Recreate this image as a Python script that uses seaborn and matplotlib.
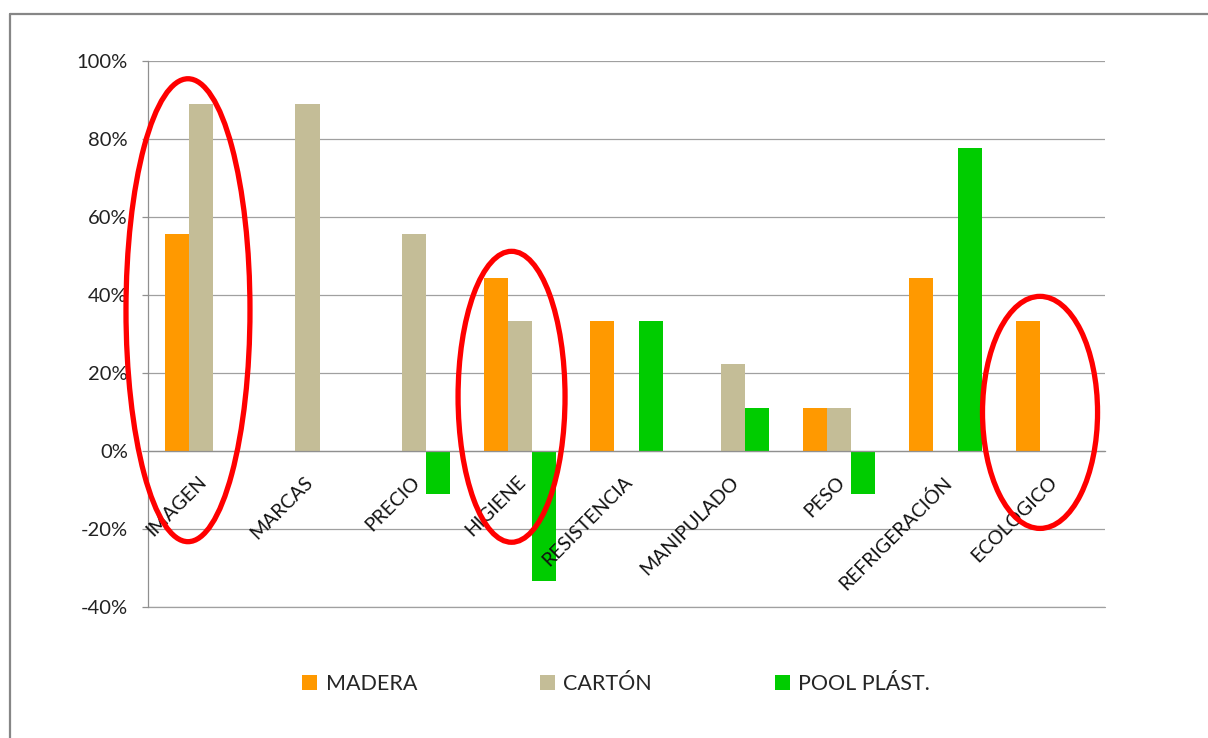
import numpy as np
import pandas as pd
import matplotlib
matplotlib.use("Agg")
import matplotlib.pyplot as plt
import matplotlib.transforms as mtransforms
from matplotlib.patches import Ellipse, Patch
from matplotlib.lines import Line2D
import seaborn as sns

categories = ["IMAGEN", "MARCAS", "PRECIO", "HIGIENE", "RESISTENCIA",
              "MANIPULADO", "PESO", "REFRIGERACIÓN", "ECOLOGICO"]
series = ["MADERA", "CARTÓN", "POOL PLÁST."]
madera = [0.556, 0.0, 0.0, 0.444, 0.333, 0.0, 0.111, 0.444, 0.333]
carton = [0.889, 0.889, 0.556, 0.333, 0.0, 0.222, 0.111, 0.0, 0.0]
pool = [0.0, 0.0, -0.111, -0.333, 0.333, 0.111, -0.111, 0.778, 0.0]
yticks = [-0.4, -0.2, 0.0, 0.2, 0.4, 0.6, 0.8, 1.0]
ytick_labels = ["-40%", "-20%", "0%", "20%", "40%", "60%", "80%", "100%"]
colors = {"MADERA": "#FF9900", "CARTÓN": "#C4BD97", "POOL PLÁST.": "#00CC00"}

df = pd.DataFrame({
    "categoria": categories * 3,
    "serie": [series[0]] * 9 + [series[1]] * 9 + [series[2]] * 9,
    "valor": madera + carton + pool,
})

sns.set_style("white")
plt.rcParams["font.family"] = ["Lato", "DejaVu Sans"]

fig = plt.figure(figsize=(12.08, 7.38), dpi=100)
W, H = 1208, 738
ax = fig.add_axes([148 / W, 1 - 607 / H, (1105 - 148) / W, (607 - 61) / H])

sns.barplot(data=df, x="categoria", y="valor", hue="serie", order=categories,
            hue_order=series, palette=colors, width=0.68, ax=ax,
            saturation=1, legend=False, errorbar=None, linewidth=0)

ax.set_xlim(-0.5, len(categories) - 0.5)
ax.set_ylim(-0.4, 1.0)
ax.set_yticks(yticks)
ax.set_yticklabels(ytick_labels, fontsize=14.5, color="#222222")
ax.yaxis.grid(True, color="#A0A0A0", linewidth=0.9)
ax.axhline(-0.4, color="#A0A0A0", linewidth=0.9, clip_on=False, zorder=0)
ax.set_axisbelow(True)
ax.set_xlabel("")
ax.set_ylabel("")

for s in ["top", "right"]:
    ax.spines[s].set_visible(False)
ax.spines["left"].set_color("#909090")
ax.spines["left"].set_linewidth(0.9)
ax.spines["bottom"].set_position(("data", 0))
ax.spines["bottom"].set_color("#909090")
ax.spines["bottom"].set_linewidth(0.9)

ax.set_xticks(np.arange(-0.5, len(categories), 1.0))
ax.set_xticklabels([])
ax.tick_params(axis="x", direction="out", length=5, color="#909090", width=0.9)
ax.tick_params(axis="y", direction="out", length=4.5, color="#909090", width=0.9,
               pad=10, left=True)

# category labels next to the zero axis
tr = mtransforms.offset_copy(ax.transData, fig=fig, x=-3, y=-22, units="dots")
for i, c in enumerate(categories):
    ax.text(i, 0, c, transform=tr, rotation=45, rotation_mode="anchor",
            ha="right", va="top", fontsize=14, color="#111111")

# red annotation ellipses
ell = [(-0.124, 0.361, 1.166, 1.187), (2.919, 0.139, 1.006, 0.746),
       (7.889, 0.099, 1.082, 0.595)]
for (cx, cy, w, h) in ell:
    ax.add_patch(Ellipse((cx, cy), w, h, fill=False, edgecolor="#FF0000",
                         linewidth=3.8, clip_on=False, zorder=5))

handles = [Patch(facecolor=colors[s], edgecolor="none") for s in series]
fig.legend(handles, series, loc="center", bbox_to_anchor=(0.51, 1 - 684 / H),
           ncol=3, frameon=False, fontsize=15.5, handlelength=0.7,
           handleheight=0.7, handletextpad=0.4, columnspacing=5.7)

# chart frame
fig.add_artist(Line2D([9.5 / W, 9.5 / W], [0, 1 - 14 / H], color="#868686",
                      linewidth=1.6, transform=fig.transFigure))
fig.add_artist(Line2D([9.5 / W, 1], [1 - 14 / H, 1 - 14 / H], color="#868686",
                      linewidth=1.6, transform=fig.transFigure))

fig.savefig("out.png", dpi=100)
